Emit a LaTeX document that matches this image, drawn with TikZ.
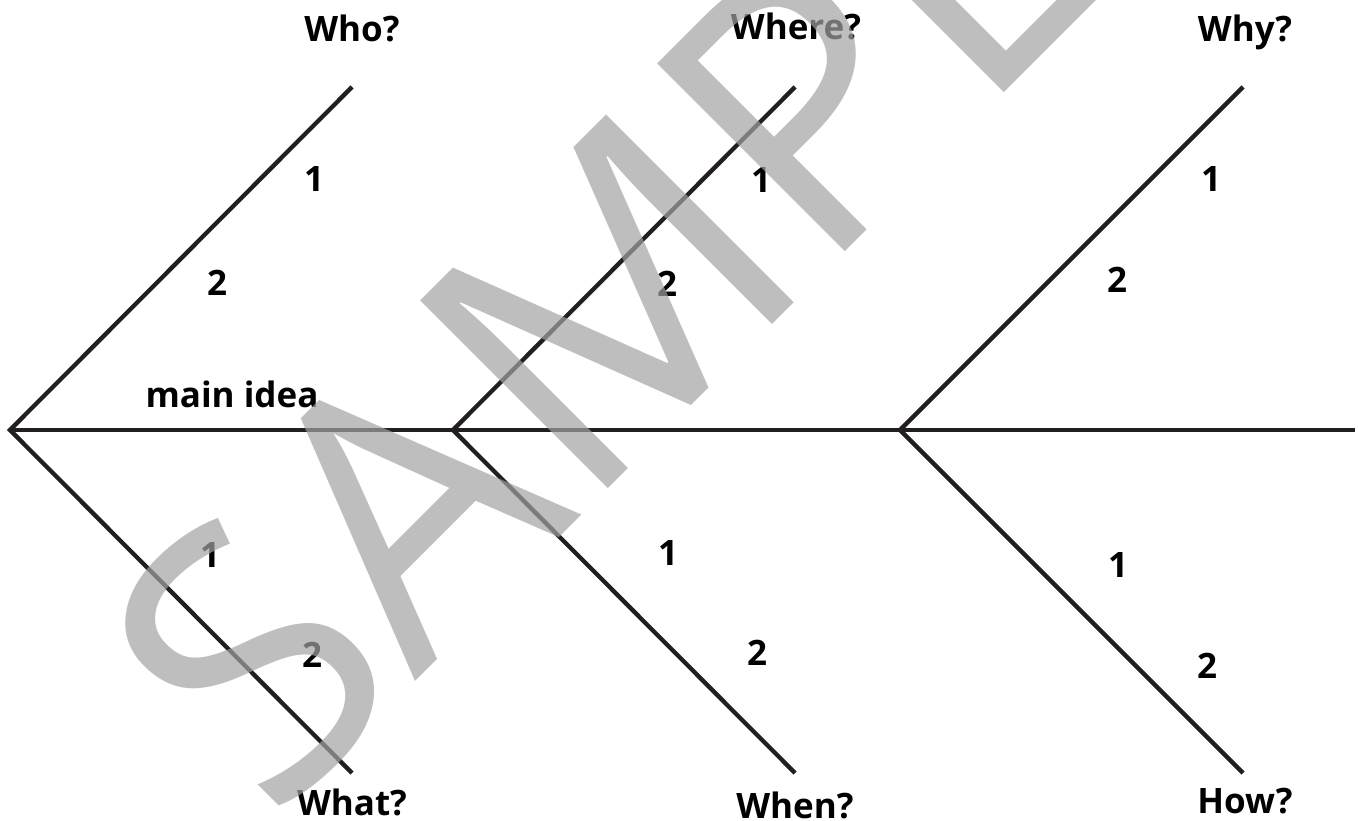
\documentclass[tikz,border=0pt]{standalone}
\usepackage{fontspec}
\setmainfont{Open Sans}
\definecolor{ink}{HTML}{231F20}
\tikzset{
  bone/.style={draw=ink, line width=4.3pt, line join=miter},
  question/.style={font={\fontsize{35}{40}\selectfont\bfseries}, anchor=base, inner sep=0pt},
  stamp/.style={font={\fontsize{372}{372}\selectfont}, text=black!36, text opacity=0.7,
    anchor=base west, inner sep=0pt, outer sep=0pt, rotate=45},
}
\begin{document}
\begin{tikzpicture}[x=1pt, y=-1pt]
    \useasboundingbox (0,0) rectangle (1358,821);

    % Heads and tips of the bones
    \coordinate (h1) at (10,430);
    \coordinate (h2) at (453,430);
    \coordinate (h3) at (900,430);
    \coordinate (tail) at (1355,430);
    \coordinate (t1u) at (352,87);
    \coordinate (t1d) at (352,773);
    \coordinate (t2u) at (795,87);
    \coordinate (t2d) at (795,773);
    \coordinate (t3u) at (1243,87);
    \coordinate (t3d) at (1243,773);

    % Spine
    \draw[bone] (h1) -- (tail);

    % Bones
    \draw[bone] (t1u) -- (h1) -- (t1d);
    \draw[bone] (t2u) -- (h2) -- (t2d);
    \draw[bone] (t3u) -- (h3) -- (t3d);

    % Questions
    \node[question] (who) at (352,42) {Who?};
    \node[question] (where) at (796,40) {Where?};
    \node[question] (why) at (1245,42) {Why?};
    \node[question] (what) at (352,815) {What?};
    \node[question] (when) at (795,818) {When?};
    \node[question] (how) at (1245,813) {How?};
    \node[question] (idea) at (232,407) {main idea};

    % Numbers on the bones
    \node[question] (who1) at (314,192) {1};
    \node[question] (who2) at (217,295) {2};
    \node[question] (what1) at (210,567) {1};
    \node[question] (what2) at (312,667) {2};
    \node[question] (where1) at (761,193) {1};
    \node[question] (where2) at (667,297) {2};
    \node[question] (when1) at (668,565) {1};
    \node[question] (when2) at (757,665) {2};
    \node[question] (why1) at (1211,192) {1};
    \node[question] (why2) at (1117,292) {2};
    \node[question] (how1) at (1118,577) {1};
    \node[question] (how2) at (1207,678) {2};

    % Watermark
    \node[stamp] (sample) at (271.5,825.5) {SAMPLE};
\end{tikzpicture}
\end{document}
